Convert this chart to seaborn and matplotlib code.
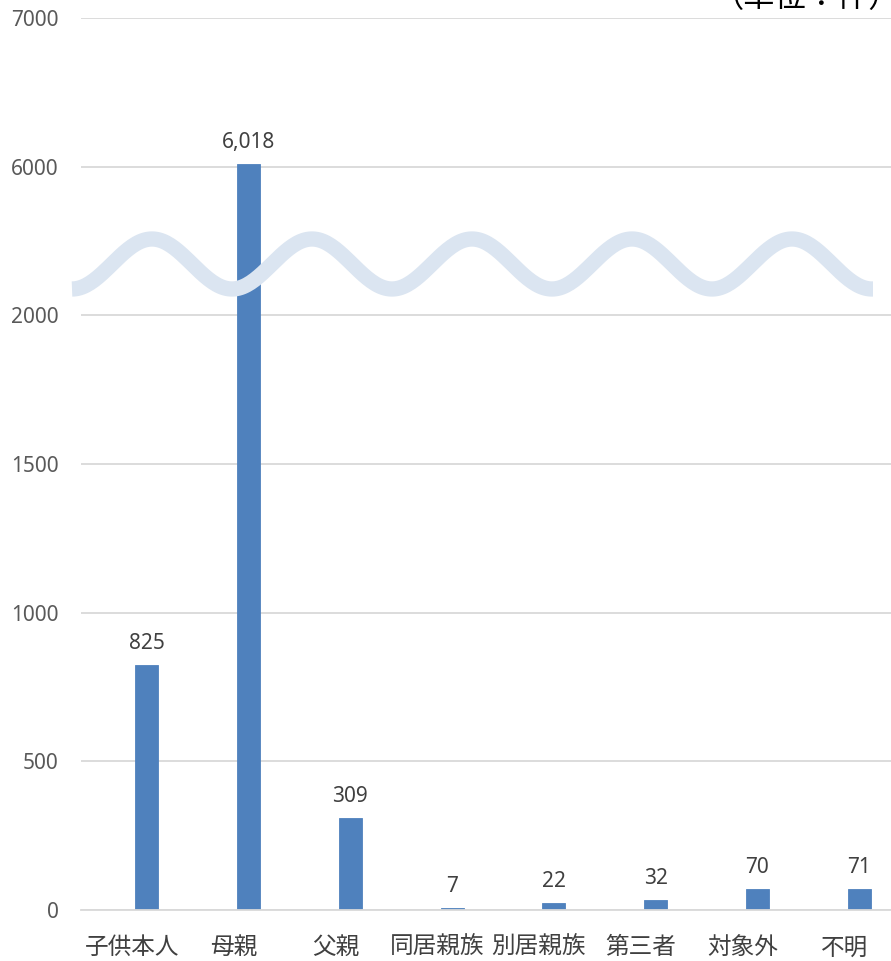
import matplotlib
matplotlib.use("Agg")
import matplotlib.pyplot as plt
import numpy as np
import seaborn as sns

# data
categories = ["子供本人", "母親", "父親", "同居親族", "別居親族", "第三者", "対象外", "不明"]
counts = [825, 6018, 309, 7, 22, 32, 70, 71]
y_ticks = [0, 500, 1000, 1500, 2000, 6000, 7000]
unit_label = "（単位：件）"

BAR = "#4f81bd"
GRID = "#d9d9d9"
WAVE = "#dbe5f1"


def fwd(v):
    # broken axis: 0-2000 linear, 2000-6000 squeezed into one step, 6000+ linear again
    v = np.asarray(v, dtype=float)
    return np.where(v <= 2000, v / 500,
                    np.where(v <= 6000, 4 + (v - 2000) / 4000, 5 + (v - 6000) / 1000))


def inv(t):
    t = np.asarray(t, dtype=float)
    return np.where(t <= 4, t * 500,
                    np.where(t <= 5, 2000 + (t - 4) * 4000, 6000 + (t - 5) * 1000))


sns.set_theme(style="white")
plt.rcParams["font.family"] = ["Noto Sans", "Noto Sans CJK JP", "DejaVu Sans"]

fig = plt.figure(figsize=(8.91, 9.61), dpi=100)
# plot area runs a little past the right edge, like the original
ax = fig.add_axes([81 / 891, 51 / 961, 814 / 891, 892 / 961])

sns.barplot(x=categories, y=counts, color=BAR, saturation=1, width=0.225, ax=ax, zorder=2)
# bars sit a bit right of the category centre (empty second series in the original)
for p in ax.containers[0]:
    p.set_x(p.get_x() + 0.148)
    p.set_edgecolor(BAR)
    p.set_linewidth(0.6)

ax.set_yscale("function", functions=(fwd, inv))
ax.set_ylim(0, 7000)
ax.set_yticks(y_ticks)
ax.set_yticklabels([str(t) for t in y_ticks])
ax.set_xlim(-0.5, 7.5)

ax.yaxis.grid(True, color=GRID, linewidth=1.3, zorder=0)
ax.set_axisbelow(True)
for s in ["left", "right", "top"]:
    ax.spines[s].set_visible(False)
ax.spines["bottom"].set_color(GRID)
ax.spines["bottom"].set_linewidth(1.3)

ax.tick_params(axis="y", length=0, pad=16, labelsize=15, labelcolor="#595959")
ax.tick_params(axis="x", length=0, pad=19, labelsize=17, labelcolor="#404040")
ax.set_xlabel("")
ax.set_ylabel("")

labels = [f"{v:,}" if v >= 1000 else str(v) for v in counts]
ax.bar_label(ax.containers[0], labels=labels, padding=8, fontsize=15, color="#404040")

# wave marking the axis break
xs = np.linspace(72, 873, 400)
ys = 264 + 25 * np.cos(2 * np.pi * (xs - 72) / 160)
ax.plot(xs / 891, 1 - ys / 961, transform=fig.transFigure, color=WAVE,
        linewidth=11, solid_capstyle="butt", clip_on=False, zorder=5)

fig.text(900 / 891, 1 + 1 / 961, unit_label, ha="right", va="center",
         fontsize=22.5, color="#000000")

fig.savefig("out.png", dpi=100)
